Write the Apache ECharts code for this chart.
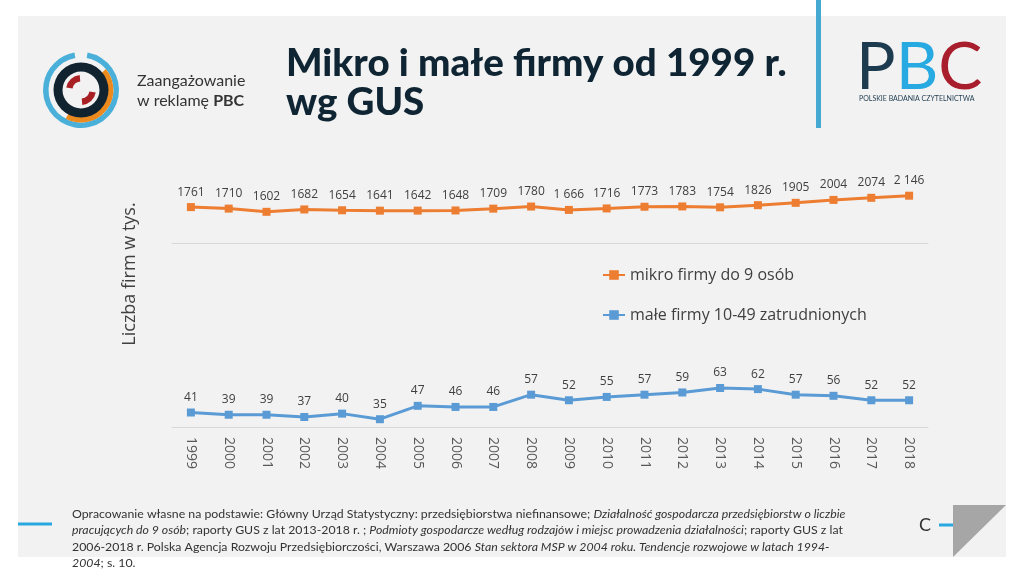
<!DOCTYPE html>
<html>
<head>
<meta charset="utf-8">
<script src="https://cdn.jsdelivr.net/npm/echarts@6/dist/echarts.min.js"></script>
<style>
html,body{margin:0;padding:0;background:#fff;}
#c{width:1024px;height:576px;}
</style>
</head>
<body>
<div id="c"></div>
<script>
const years = ['1999','2000','2001','2002','2003','2004','2005','2006','2007','2008','2009','2010','2011','2012','2013','2014','2015','2016','2017','2018'];
const mikro = [1761,1710,1602,1682,1654,1641,1642,1648,1709,1780,1666,1716,1773,1783,1754,1826,1905,2004,2074,2146];
const mikroLabels = ['1761','1710','1602','1682','1654','1641','1642','1648','1709','1780','1 666','1716','1773','1783','1754','1826','1905','2004','2074','2 146'];
const male = [41,39,39,37,40,35,47,46,46,57,52,55,57,59,63,62,57,56,52,52];
const seriesNames = ['mikro firmy do 9 osób','małe firmy 10-49 zatrudnionych'];

const chart = echarts.init(document.getElementById('c'), null, {renderer:'canvas'});
const lab = {fontFamily:'Open Sans', fontSize:12, color:'#404040'};
const deg = Math.PI/180;

const option = {
  backgroundColor:'#ffffff',
  animation:false,
  textStyle:{fontFamily:'Open Sans'},
  graphic:[
    {type:'rect', z:-100, shape:{x:18,y:16,width:988,height:541}, style:{fill:'#f2f2f2'}},
    {type:'rect', z:-50, shape:{x:816,y:0,width:5,height:128}, style:{fill:'#45a9d2'}},
    // left logo
    {type:'sector', shape:{cx:81,cy:90,r:38,r0:32.5,startAngle:-80*deg,endAngle:260*deg,clockwise:true}, style:{fill:'#4bb0d9'}},
    {type:'sector', shape:{cx:81,cy:90,r:32.5,r0:27,startAngle:-40*deg,endAngle:118*deg,clockwise:true}, style:{fill:'#ec8a1e'}},
    {type:'sector', shape:{cx:81,cy:90,r:27.5,r0:18.5,startAngle:0,endAngle:2*Math.PI,clockwise:true}, style:{fill:'#10232f'}},
    {type:'sector', shape:{cx:81,cy:90,r:15,r0:8.5,startAngle:-170*deg,endAngle:-95*deg,clockwise:true}, style:{fill:'#a81f24'}},
    {type:'sector', shape:{cx:81,cy:90,r:15,r0:8.5,startAngle:10*deg,endAngle:85*deg,clockwise:true}, style:{fill:'#a81f24'}},
    {type:'text', left:137, top:73, style:{text:'Zaangażowanie', font:'16px Lato', fill:'#333333'}},
    {type:'text', left:137, top:93, style:{text:'{n|w reklamę }{b|PBC}', rich:{n:{font:'16px Lato', fill:'#333333'}, b:{font:'bold 16px Lato', fill:'#333333'}}}},
    // title
    {type:'text', left:286, top:44, style:{text:'Mikro i małe firmy od 1999 r.\nwg GUS', font:'900 38.5px Lato', fill:'#0f2533', lineHeight:39}},
    // PBC logo
    {type:'text', left:856, top:35, style:{text:'{p|P}{b|B}{c|C}', rich:{p:{font:'normal 66px Lato', fill:'#1d3b4f'}, b:{font:'normal 66px Lato', fill:'#27a9e1'}, c:{font:'normal 66px Lato', fill:'#a91e2c'}}}},
    {type:'text', left:859, top:95, style:{text:'POLSKIE BADANIA CZYTELNICTWA', font:'7px Lato', fill:'#1d3b4f'}},
    // axis title
    {type:'text', x:130, y:274, rotation:Math.PI/2, style:{text:'Liczba firm w tys.', font:'18px "Open Sans"', fill:'#404040', align:'center', verticalAlign:'middle'}},
    // footer
    {type:'rect', shape:{x:18,y:522.5,width:34,height:3}, style:{fill:'#29a8e0'}},
    {type:'text', left:72, top:508, style:{
      text:'{n|Opracowanie własne na podstawie: Główny Urząd Statystyczny: przedsiębiorstwa niefinansowe; }{i|Działalność gospodarcza przedsiębiorstw o liczbie}\n' +
           '{i|pracujących do 9 osób}{n|; raporty GUS z lat 2013-2018 r. ; }{i|Podmioty gospodarcze według rodzajów i miejsc prowadzenia działalności}{n|; raporty GUS z lat}\n' +
           '{n|2006-2018 r. Polska Agencja Rozwoju Przedsiębiorczości, Warszawa 2006 }{i|Stan sektora MSP w 2004 roku. Tendencje rozwojowe w latach 1994-}\n' +
           '{i|2004}{n|; s. 10.}',
      rich:{n:{font:'12.3px Lato', fill:'#333333', lineHeight:16.3}, i:{font:'italic 12.3px Lato', fill:'#333333', lineHeight:16.3}}
    }},
    {type:'text', x:925, y:525, style:{text:'C', font:'18px Lato', fill:'#333333', align:'center', verticalAlign:'middle'}},
    {type:'rect', shape:{x:939,y:523.5,width:15,height:3}, style:{fill:'#29a8e0'}},
    {type:'polygon', shape:{points:[[953,505],[1006,505],[953,557]]}, style:{fill:'#a6a6a6'}}
  ],
  legend:{
    orient:'vertical', left:597, top:262, itemGap:24, itemWidth:22, itemHeight:12,
    textStyle:{fontFamily:'Open Sans', fontSize:16, color:'#404040'},
    data:seriesNames
  },
  grid:[
    {left:172, width:756, top:160, height:83},
    {left:172, width:756, top:300, height:127}
  ],
  xAxis:[
    {gridIndex:0, type:'category', data:years, boundaryGap:true,
     axisLine:{lineStyle:{color:'#d9d9d9', width:1}}, axisTick:{show:false}, axisLabel:{show:false}},
    {gridIndex:1, type:'category', data:years, boundaryGap:true,
     axisLine:{lineStyle:{color:'#d9d9d9', width:1}}, axisTick:{show:false},
     axisLabel:{rotate:-90, margin:10, fontFamily:'Open Sans', fontSize:14, color:'#595959'}}
  ],
  yAxis:[
    {gridIndex:0, type:'value', min:550, max:3350, show:false, splitLine:{show:false}},
    {gridIndex:1, type:'value', min:28, max:142, show:false, splitLine:{show:false}}
  ],
  series:[
    {name:seriesNames[0], type:'line', xAxisIndex:0, yAxisIndex:0, data:mikro,
     symbol:'rect', symbolSize:8, lineStyle:{width:3, color:'#ed7d31'}, itemStyle:{color:'#ed7d31'},
     label:Object.assign({show:true, position:'top', distance:5, formatter:p=>mikroLabels[p.dataIndex]}, lab)},
    {name:seriesNames[1], type:'line', xAxisIndex:1, yAxisIndex:1, data:male,
     symbol:'rect', symbolSize:8, lineStyle:{width:3, color:'#5b9bd5'}, itemStyle:{color:'#5b9bd5'},
     label:Object.assign({show:true, position:'top', distance:5}, lab)}
  ]
};
chart.setOption(option);
</script>
</body>
</html>
